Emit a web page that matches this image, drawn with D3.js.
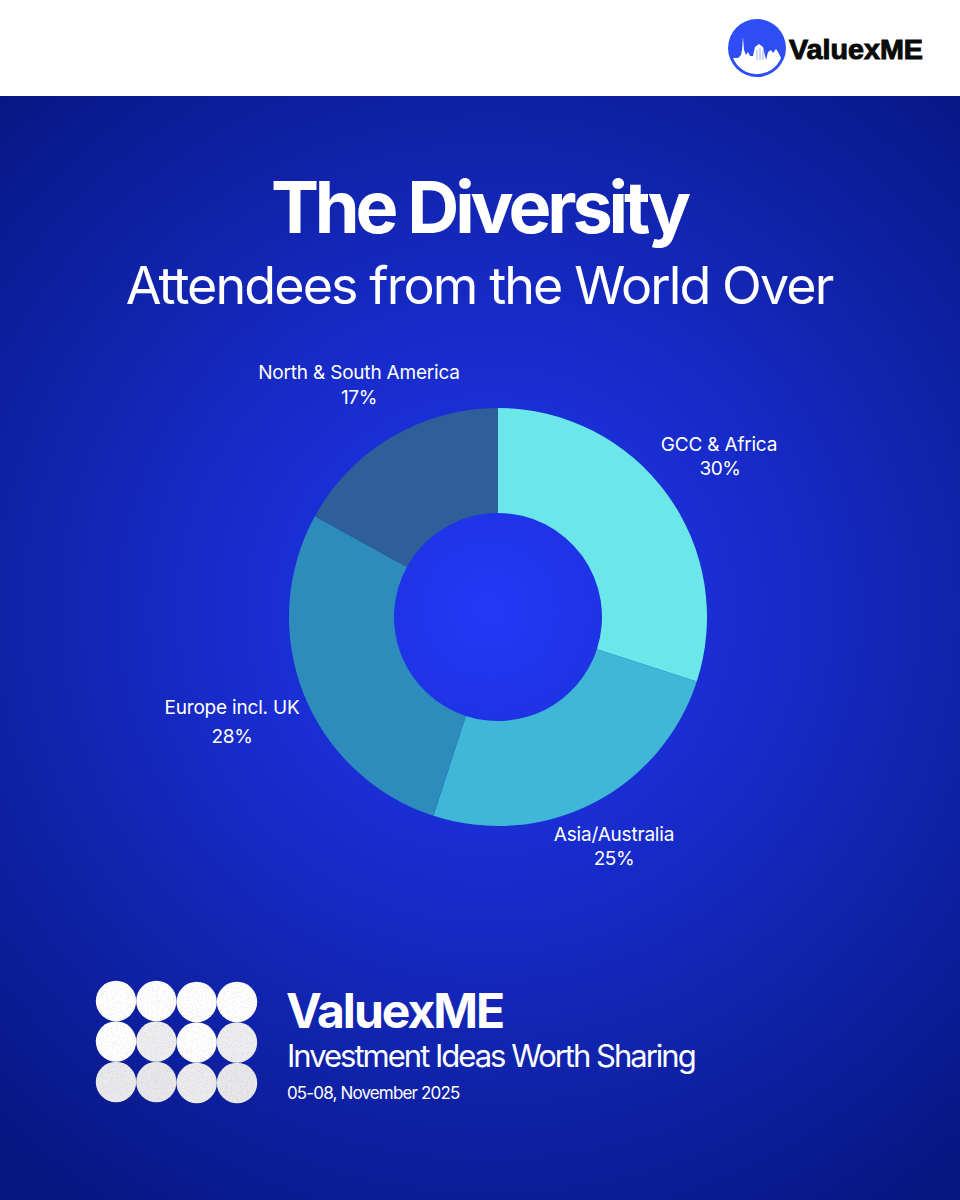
<!DOCTYPE html>
<html>
<head>
<meta charset="utf-8">
<script src="https://cdn.jsdelivr.net/npm/d3@7"></script>
<style>
html, body { margin: 0; padding: 0; background: #fff; }
svg { display: block; }
text { font-family: Inter, "Liberation Sans", sans-serif; fill: #fff; }
</style>
</head>
<body>
<div id="chart"></div>
<script>
var width = 960;
var height = 1200;

var regions = ["GCC & Africa", "Asia/Australia", "Europe incl. UK", "North & South America"];
var shares = [30, 25, 28, 17];
var sliceColors = ["#6be6e9", "#40b7d6", "#2e8cbd", "#2e5f98"];
var dotRows = [0, 1, 2];
var dotCols = [0, 1, 2, 3];
var dotShades = [
  ["#ffffff", "#ffffff", "#ffffff", "#ffffff"],
  ["#ffffff", "#eeeef0", "#ffffff", "#eeeef0"],
  ["#eaeaec", "#e8e8ea", "#ececee", "#e8e8ea"]
];

var labelPos = [
  { x: 719, y: 445, y2: 468 },
  { x: 614, y: 835, y2: 858 },
  { x: 232, y: 708, y2: 736 },
  { x: 359, y: 373, y2: 397 }
];

var svg = d3.select("#chart").append("svg")
  .attr("width", width)
  .attr("height", height);

var defs = svg.append("defs");
var bg = defs.append("radialGradient")
  .attr("id", "bg")
  .attr("gradientUnits", "userSpaceOnUse")
  .attr("cx", 490).attr("cy", 610).attr("r", 720);
bg.append("stop").attr("offset", "0").attr("stop-color", "#2339f6");
bg.append("stop").attr("offset", "0.3").attr("stop-color", "#1a2ed4");
bg.append("stop").attr("offset", "0.62").attr("stop-color", "#1124ae");
bg.append("stop").attr("offset", "1").attr("stop-color", "#071682");

// speckle on the footer dots
var grain = defs.append("filter")
  .attr("id", "grain")
  .attr("color-interpolation-filters", "sRGB");
grain.append("feTurbulence")
  .attr("type", "fractalNoise")
  .attr("baseFrequency", 0.8)
  .attr("numOctaves", 2)
  .attr("seed", 4);
grain.append("feColorMatrix")
  .attr("type", "matrix")
  .attr("values", "0.25 0 0 0 0.87  0.25 0 0 0 0.87  0.25 0 0 0 0.87  0 0 0 0 1")
  .attr("result", "noise");
grain.append("feBlend")
  .attr("in", "SourceGraphic")
  .attr("in2", "noise")
  .attr("mode", "multiply");
grain.append("feComposite")
  .attr("in2", "SourceAlpha")
  .attr("operator", "in");

svg.append("rect").attr("width", width).attr("height", 96).attr("fill", "#fff");
svg.append("rect").attr("y", 96).attr("width", width).attr("height", height - 96).attr("fill", "url(#bg)");

// top right logo
var logo = svg.append("g").attr("class", "logo");
logo.append("circle").attr("cx", 757).attr("cy", 48).attr("r", 29).attr("fill", "#2f4df5");
logo.append("path")
  .attr("fill", "#fff")
  .attr("d", "M733,58 L738,58 L741,55 L742,50 L743,37 L744,50 L746,55 L748,52 L750,56 L753,56 L755,47 L759,44 L763,47 L766,60 L768,52 L771,50 L773,53 L776,49 L778,52 L781,58 A26,26 0 0 1 733,58 Z");
logo.append("path")
  .attr("fill", "none")
  .attr("stroke", "#9db0f8")
  .attr("stroke-width", 1)
  .attr("d", "M757,50 V60 M760,48 V60 M763,50 V60");
logo.append("text")
  .attr("x", 789).attr("y", 59)
  .style("font-family", "'Liberation Sans', sans-serif")
  .style("fill", "#0a0a0a")
  .style("font-weight", 700)
  .style("font-size", "28px")
  .style("stroke", "#0a0a0a")
  .style("stroke-width", "1px")
  .attr("textLength", 134)
  .attr("lengthAdjust", "spacingAndGlyphs")
  .text("ValuexME");

// headings
svg.append("text")
  .attr("x", 479).attr("y", 233)
  .attr("text-anchor", "middle")
  .style("font-size", "72px").style("font-weight", 700)
  .style("letter-spacing", "-4.1px")
  .text("The Diversity");
svg.append("text")
  .attr("x", 479).attr("y", 304)
  .attr("text-anchor", "middle")
  .style("font-size", "52px").style("font-weight", 400)
  .style("letter-spacing", "-1.9px")
  .text("Attendees from the World Over");

// donut
var pie = d3.pie().sort(null).value(function(d) { return d; });
var arc = d3.arc().innerRadius(104).outerRadius(209);

var donut = svg.append("g").attr("transform", "translate(498,617)");
donut.selectAll("path")
  .data(pie(shares))
  .enter().append("path")
  .attr("d", arc)
  .attr("fill", function(d, i) { return sliceColors[i]; });

var labels = svg.selectAll(".slice-label")
  .data(regions)
  .enter().append("g")
  .attr("class", "slice-label");
labels.append("text")
  .attr("x", function(d, i) { return labelPos[i].x; })
  .attr("y", function(d, i) { return labelPos[i].y + 6; })
  .attr("text-anchor", "middle")
  .style("font-size", "19px")
  .style("letter-spacing", "-0.2px")
  .text(function(d) { return d; });
labels.append("text")
  .attr("x", function(d, i) { return labelPos[i].x + (i == 0 ? 1 : 0); })
  .attr("y", function(d, i) { return labelPos[i].y2 + 7; })
  .attr("text-anchor", "middle")
  .style("font-size", "19px")
  .style("letter-spacing", "-0.4px")
  .text(function(d, i) { return shares[i] + "%"; });

// footer dots
var dotX = d3.scalePoint().domain(dotCols).range([116, 237]);
var dotY = d3.scalePoint().domain(dotRows).range([1001, 1082]);
var dots = svg.append("g").attr("filter", "url(#grain)");
dotRows.forEach(function(r) {
  dots.selectAll(".row" + r)
    .data(dotCols)
    .enter().append("circle")
    .attr("class", "row" + r)
    .attr("cx", function(c) { return dotX(c); })
    .attr("cy", function(c) { return dotY(r) + (c > 1 ? 1 : 0); })
    .attr("r", 20.2)
    .attr("fill", function(c) { return dotShades[r][c]; });
});

// footer text
svg.append("text")
  .attr("x", 286).attr("y", 1028)
  .style("font-size", "48px").style("font-weight", 700)
  .style("letter-spacing", "-2px")
  .text("ValuexME");
svg.append("text")
  .attr("x", 287).attr("y", 1067)
  .style("font-size", "31px")
  .style("letter-spacing", "-2px")
  .text("Investment Ideas Worth Sharing");
svg.append("text")
  .attr("x", 287).attr("y", 1099)
  .style("font-size", "17px")
  .style("letter-spacing", "-0.85px")
  .text("05-08, November 2025");
</script>
</body>
</html>
